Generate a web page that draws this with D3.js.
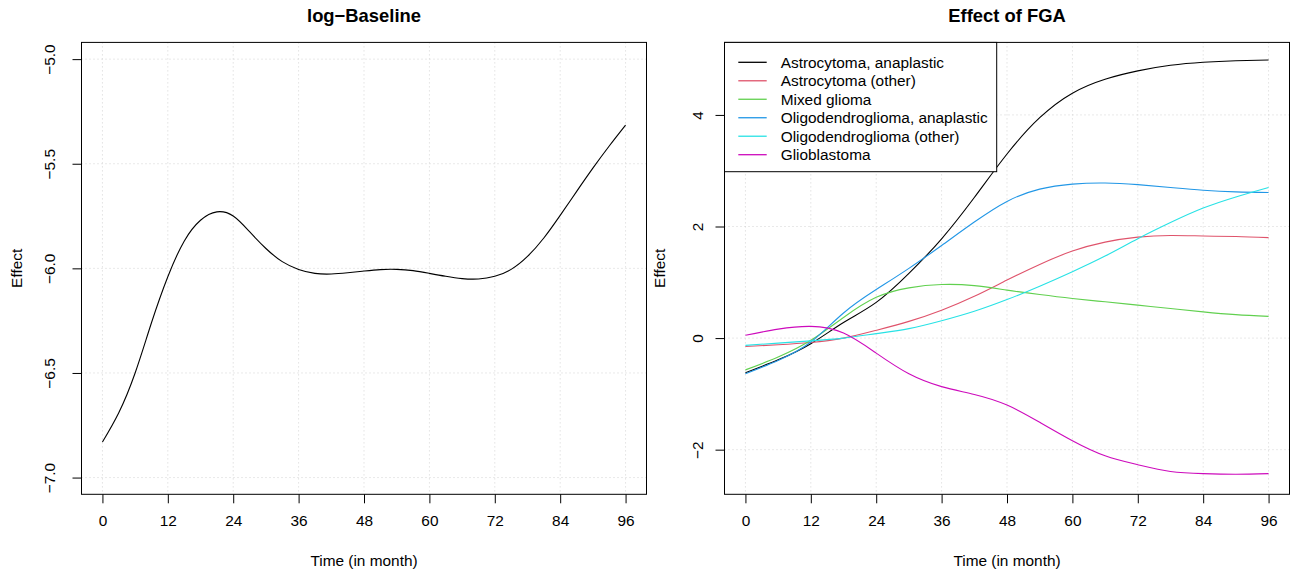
<!DOCTYPE html>
<html>
<head>
<meta charset="utf-8">
<script src="https://cdn.jsdelivr.net/npm/d3@7"></script>
<style>
  body { margin: 0; background: #fff; }
  svg { display: block; font-family: "Liberation Sans", Arial, Helvetica, sans-serif; }
</style>
</head>
<body>
<svg id="chart"></svg>
<script>
// ---- data ----
const baselineMonths = [0, 3, 6, 9, 12, 15, 18, 21, 24, 27, 30, 33, 36, 39, 42, 45, 48,
  51, 54, 57, 60, 63, 66, 69, 72, 75, 78, 81, 84, 87, 90, 93, 96];
const baselineValues = [-6.83, -6.69, -6.50, -6.26, -6.04, -5.87, -5.77, -5.73, -5.75, -5.825,
  -5.905, -5.968, -6.005, -6.024, -6.027, -6.021, -6.013, -6.006, -6.005, -6.011, -6.024,
  -6.038, -6.049, -6.051, -6.038, -6.005, -5.943, -5.855, -5.747, -5.633, -5.521, -5.415, -5.315];

const fgaMonths = [0, 6, 12, 18, 24, 30, 36, 42, 48, 54, 60, 66, 72, 78, 84, 90, 96];
const fgaCategories = ['Astrocytoma, anaplastic', 'Astrocytoma (other)', 'Mixed glioma',
  'Oligodendroglioma, anaplastic', 'Oligodendroglioma (other)', 'Glioblastoma'];
const astroAnaplastic = [-0.62, -0.39, -0.10, 0.28, 0.64, 1.16, 1.78, 2.52, 3.30, 3.95, 4.39,
  4.64, 4.79, 4.89, 4.945, 4.972, 4.985];
const astroOther = [-0.15, -0.12, -0.08, 0.00, 0.14, 0.30, 0.50, 0.75, 1.04, 1.32, 1.56,
  1.72, 1.81, 1.84, 1.83, 1.82, 1.80];
const mixedGlioma = [-0.57, -0.34, -0.04, 0.37, 0.73, 0.90, 0.96, 0.94, 0.86, 0.78, 0.71,
  0.65, 0.59, 0.53, 0.47, 0.42, 0.39];
const oligoAnaplastic = [-0.64, -0.40, -0.07, 0.45, 0.87, 1.25, 1.66, 2.08, 2.45, 2.67, 2.76,
  2.78, 2.75, 2.70, 2.65, 2.62, 2.61];
const oligoOther = [-0.13, -0.09, -0.05, 0.00, 0.08, 0.17, 0.31, 0.48, 0.69, 0.93, 1.19,
  1.47, 1.78, 2.07, 2.33, 2.53, 2.70];
const glioblastoma = [0.05, 0.16, 0.21, 0.09, -0.27, -0.64, -0.87, -1.01, -1.20, -1.51, -1.84,
  -2.11, -2.27, -2.39, -2.43, -2.44, -2.43];
const fgaSeries = [astroAnaplastic, astroOther, mixedGlioma, oligoAnaplastic, oligoOther, glioblastoma];
const fgaColors = ['#000000', '#DF536B', '#61D04F', '#2297E6', '#28E2E5', '#CD0BBC'];

const xTicks = [0, 12, 24, 36, 48, 60, 72, 84, 96];
const xLim = [0, 96];
const baselineYTicks = [-7, -6.5, -6, -5.5, -5];
const baselineYLim = [-7, -5];
const fgaYTicks = [-2, 0, 2, 4];
const fgaYLim = [-2.5, 5];

// ---- layout ----
const W = 1291, H = 571;
const plotTop = 42.4, plotBottom = 494.3;
const fontSize = 15.4;
const minus = s => String(s).replace('-', '\u2212');

const svg = d3.select('#chart').attr('width', W).attr('height', H);

// R style 4% axis extension
const pad = lim => {
  const d = (lim[1] - lim[0]) * 0.04;
  return [lim[0] - d, lim[1] + d];
};

function drawPanel(p) {
  const x = d3.scaleLinear().domain(pad(xLim)).range([p.left, p.right]);
  const y = d3.scaleLinear().domain(pad(p.yLim)).range([plotBottom, plotTop]);
  const g = svg.append('g');

  // dotted grid
  g.selectAll('.vgrid').data(xTicks).enter().append('line')
    .attr('x1', d => x(d)).attr('x2', d => x(d))
    .attr('y1', plotTop).attr('y2', plotBottom)
    .attr('stroke', '#d3d3d3').attr('stroke-dasharray', '1,3');
  g.selectAll('.hgrid').data(p.yTicks).enter().append('line')
    .attr('x1', p.left).attr('x2', p.right)
    .attr('y1', d => y(d)).attr('y2', d => y(d))
    .attr('stroke', '#d3d3d3').attr('stroke-dasharray', '1,3');

  // curves
  const line = d3.line()
    .x((d, i) => x(p.months[i]))
    .y(d => y(d))
    .curve(d3.curveNatural);
  p.series.forEach((s, i) => {
    g.append('path')
      .attr('d', line(s))
      .attr('fill', 'none')
      .attr('stroke', p.colors[i])
      .attr('stroke-width', 1.1);
  });

  // axes (ticks + labels), R look
  const xAxis = g.append('g').attr('transform', `translate(0,${plotBottom})`)
    .call(d3.axisBottom(x).tickValues(xTicks).tickSize(9).tickPadding(12).tickFormat(d3.format('d')));
  xAxis.select('.domain').remove();
  xAxis.selectAll('text').attr('font-size', fontSize).attr('fill', '#000');
  xAxis.attr('font-family', null);

  const yAxis = g.append('g').attr('transform', `translate(${p.left},0)`)
    .call(d3.axisLeft(y).tickValues(p.yTicks).tickSize(9).tickFormat(p.fmt));
  yAxis.select('.domain').remove();
  yAxis.attr('font-family', null);
  yAxis.selectAll('text')
    .attr('font-size', fontSize).attr('fill', '#000')
    .attr('x', null).attr('dy', null)
    .attr('text-anchor', 'middle')
    .attr('dominant-baseline', 'central')
    .attr('transform', `translate(${p.tickLabelX - p.left},0) rotate(-90)`);

  // box
  g.append('rect')
    .attr('x', p.left).attr('y', plotTop)
    .attr('width', p.right - p.left).attr('height', plotBottom - plotTop)
    .attr('fill', 'none').attr('stroke', '#000').attr('stroke-width', 1);

  // title and axis labels
  const cx = (p.left + p.right) / 2;
  g.append('text').attr('x', cx).attr('y', 15).attr('dominant-baseline', 'central')
    .attr('text-anchor', 'middle').attr('font-weight', 'bold').attr('font-size', 18.4)
    .text(p.title);
  g.append('text').attr('x', cx).attr('y', 560).attr('dominant-baseline', 'central')
    .attr('text-anchor', 'middle').attr('font-size', fontSize)
    .text('Time (in month)');
  g.append('text')
    .attr('transform', `translate(${p.yLabelX},${(plotTop + plotBottom) / 2}) rotate(-90)`)
    .attr('dominant-baseline', 'central')
    .attr('text-anchor', 'middle').attr('font-size', fontSize)
    .text('Effect');

  return { g, x, y };
}

// left panel
drawPanel({
  left: 81.5, right: 646.5,
  yLim: baselineYLim, yTicks: baselineYTicks,
  fmt: d => minus(d3.format('.1f')(d)),
  months: baselineMonths, series: [baselineValues], colors: ['#000'],
  title: 'log\u2212Baseline', tickLabelX: 49.3, yLabelX: 16.7
});

// right panel
const right = drawPanel({
  left: 724.5, right: 1289.5,
  yLim: fgaYLim, yTicks: fgaYTicks,
  fmt: d => minus(d3.format('d')(d)),
  months: fgaMonths, series: fgaSeries, colors: fgaColors,
  title: 'Effect of FGA', tickLabelX: 697.3, yLabelX: 659.3
});

// legend
const legendTop = plotTop, legendBottom = 171.7, legendRight = 996.7;
const leg = right.g.append('g');
leg.append('rect')
  .attr('x', 724.5).attr('y', legendTop)
  .attr('width', legendRight - 724.5).attr('height', legendBottom - legendTop)
  .attr('fill', '#fff').attr('stroke', '#000');
const rowY = d3.scalePoint().domain(fgaCategories).range([62.3, 154.7]);
fgaCategories.forEach((c, i) => {
  leg.append('line')
    .attr('x1', 738.3).attr('x2', 766.7)
    .attr('y1', rowY(c)).attr('y2', rowY(c))
    .attr('stroke', fgaColors[i]).attr('stroke-width', 1.3);
  leg.append('text')
    .attr('x', 780.7).attr('y', rowY(c))
    .attr('dominant-baseline', 'central')
    .attr('font-size', fontSize)
    .text(c);
});
</script>
</body>
</html>
